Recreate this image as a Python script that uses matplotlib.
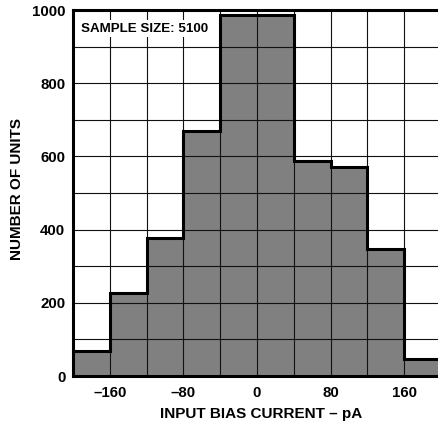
import matplotlib
matplotlib.use("Agg")
import matplotlib.pyplot as plt
from matplotlib import font_manager
from matplotlib.patches import Rectangle
import numpy as np

bin_edges = [-200, -160, -120, -80, -40, 0, 40, 80, 120, 160, 200]
counts = [69, 226, 378, 670, 985, 985, 588, 572, 346, 47]
x_tick_values = [-160, -80, 0, 80, 160]
x_tick_labels = ["\u2013160", "\u201380", "0", "80", "160"]
y_tick_values = [0, 200, 400, 600, 800, 1000]
sample_text = "SAMPLE SIZE: 5100"
x_label = "INPUT BIAS CURRENT \u2013 pA"
y_label = "NUMBER OF UNITS"

bold_path = None
for f in font_manager.fontManager.ttflist:
    fn = f.fname.lower()
    if f.name == 'Liberation Sans' and 'narrow' not in fn and f.weight in (700, 'bold') and f.style == 'normal':
        bold_path = f.fname
        break
if bold_path:
    fp = lambda size: font_manager.FontProperties(fname=bold_path, size=size)
else:
    fp = lambda size: font_manager.FontProperties(family='DejaVu Sans', weight='bold', size=size)

fig = plt.figure(figsize=(4.39, 4.29), dpi=100)
ax = fig.add_axes([73/439, 1-376/429, 368/439, 366/429])

ax.stairs(counts, bin_edges, fill=True, color='#808080', zorder=1, linewidth=0)
ax.stairs(counts, bin_edges, baseline=None, color='black', linewidth=2.2, zorder=3)

ax.set_xlim(-200, 200)
ax.set_ylim(0, 1000)
ax.set_xticks(x_tick_values)
ax.set_xticklabels(x_tick_labels)
ax.set_xticks(np.arange(-200, 201, 40), minor=True)
ax.set_yticks(y_tick_values)
ax.set_yticks(np.arange(0, 1001, 100), minor=True)
ax.tick_params(axis='both', which='both', length=0)
ax.tick_params(axis='x', pad=7)
ax.tick_params(axis='y', pad=5.5)
for lab in ax.get_xticklabels() + ax.get_yticklabels():
    lab.set_fontproperties(fp(10.8))

ax.set_axisbelow(False)
ax.grid(True, which='both', color='#111111', linewidth=0.8, zorder=2.5)

for s in ['left', 'bottom', 'top']:
    ax.spines[s].set_linewidth(2.2)
    ax.spines[s].set_zorder(4)
ax.spines['right'].set_visible(False)

ax.add_patch(Rectangle((-199, 926), 149, 47, facecolor='white', edgecolor='none', zorder=3.2))
ax.text(-122, 948, sample_text, ha='center', va='center', fontproperties=fp(9.6), zorder=3.5)

fig.text(261/439, 1-414/429, x_label, ha='center', va='center', fontproperties=fp(11))
fig.text(17/439, 1-189/429, y_label, ha='center', va='center', rotation=90, fontproperties=fp(11))

fig.savefig("out.png", dpi=100)
